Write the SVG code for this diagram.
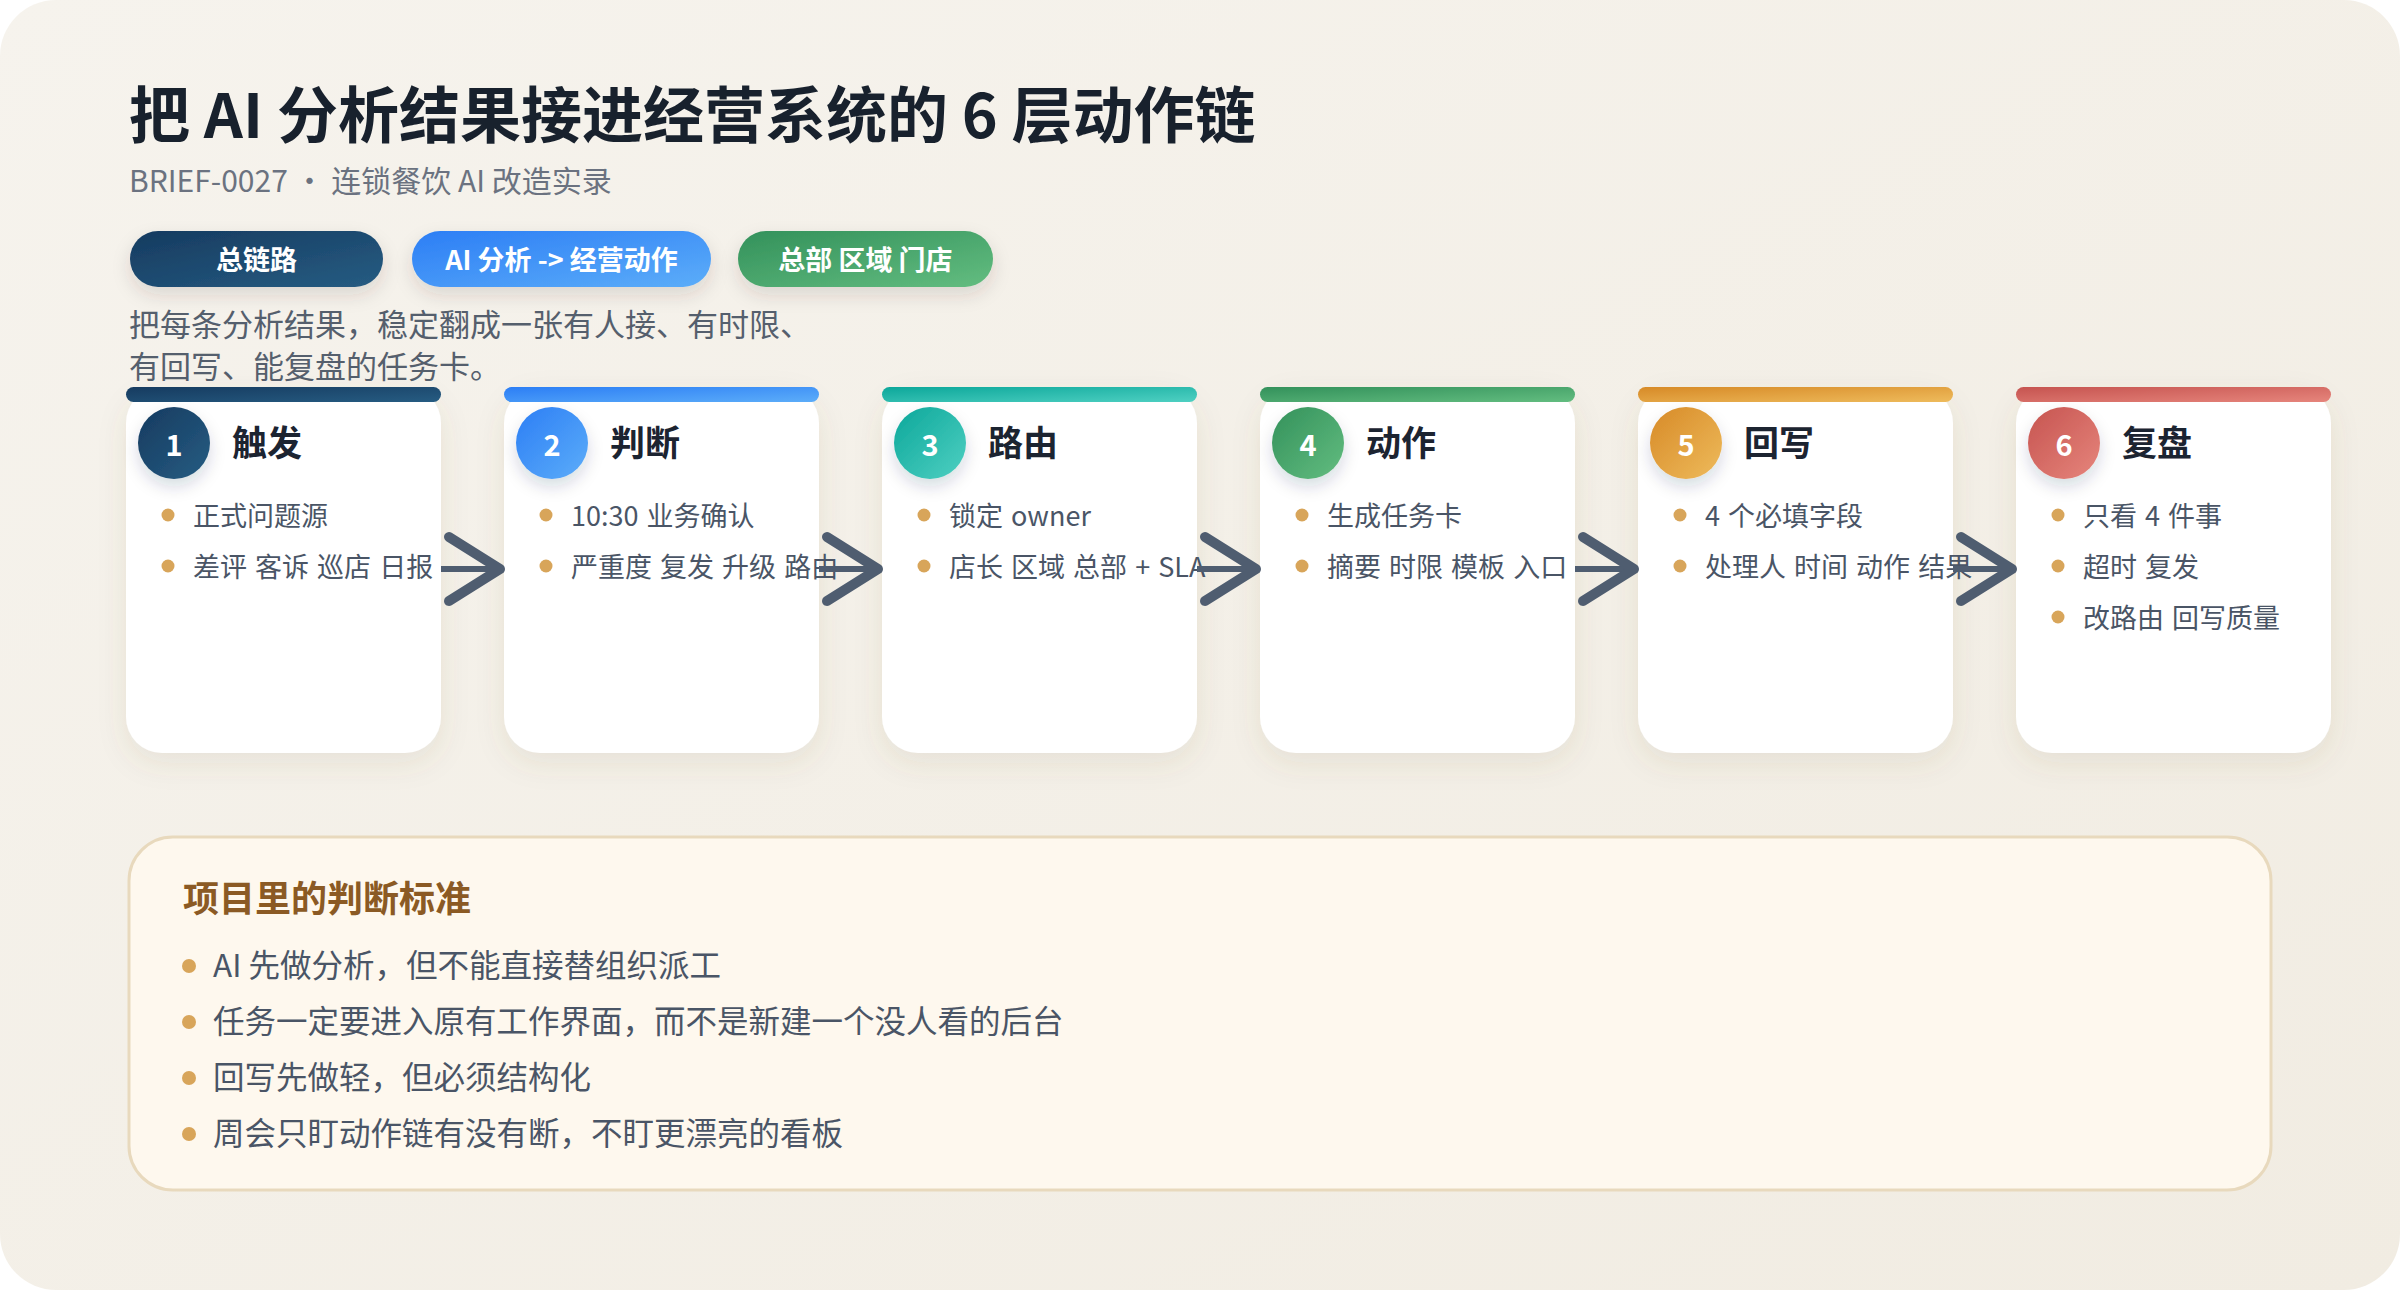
<svg xmlns="http://www.w3.org/2000/svg" width="2400" height="1290" viewBox="0 0 2400 1290">
<defs>
<linearGradient id="bg" x1="0" y1="0" x2="1" y2="1"><stop offset="0" stop-color="#f6f3ed"/><stop offset="1" stop-color="#f1ece2"/></linearGradient>
<linearGradient id="g1" x1="0" y1="0" x2="1" y2="1"><stop offset="0" stop-color="#163b60"/><stop offset="1" stop-color="#265c82"/></linearGradient>
<linearGradient id="g2" x1="0" y1="0" x2="1" y2="1"><stop offset="0" stop-color="#2c7ef5"/><stop offset="1" stop-color="#5cadf9"/></linearGradient>
<linearGradient id="g3" x1="0" y1="0" x2="1" y2="1"><stop offset="0" stop-color="#0ca79a"/><stop offset="1" stop-color="#4fd0c2"/></linearGradient>
<linearGradient id="g4" x1="0" y1="0" x2="1" y2="1"><stop offset="0" stop-color="#33915b"/><stop offset="1" stop-color="#63bd80"/></linearGradient>
<linearGradient id="g5" x1="0" y1="0" x2="1" y2="1"><stop offset="0" stop-color="#d78a27"/><stop offset="1" stop-color="#eebb5c"/></linearGradient>
<linearGradient id="g6" x1="0" y1="0" x2="1" y2="1"><stop offset="0" stop-color="#c65450"/><stop offset="1" stop-color="#e6857c"/></linearGradient>
<filter id="shCard" x="-20%" y="-20%" width="140%" height="140%"><feDropShadow dx="0" dy="10" stdDeviation="14" flood-color="#6b5a3c" flood-opacity="0.10"/></filter>
<filter id="shPill" x="-20%" y="-40%" width="140%" height="200%"><feDropShadow dx="0" dy="8" stdDeviation="9" flood-color="#3a3020" flood-opacity="0.14"/></filter>
<filter id="shDot" x="-50%" y="-50%" width="200%" height="200%"><feDropShadow dx="0" dy="8" stdDeviation="8" flood-color="#1c3050" flood-opacity="0.16"/></filter>
<marker id="chev" markerUnits="userSpaceOnUse" viewBox="-10 -44 72 88" markerWidth="72" markerHeight="88" refX="51" refY="0" orient="auto">
<path d="M0,-32 L51,0 L0,32" fill="none" stroke="#4f5d70" stroke-width="10" stroke-linecap="round" stroke-linejoin="round"/>
</marker>
<style>
text{font-family:"Noto Sans CJK SC","Noto Sans",sans-serif;}
.title{font-size:61px;font-weight:700;fill:#18212d;}
.sub{font-size:30px;fill:#6b7280;}
.pill{font-size:27px;font-weight:700;fill:#ffffff;}
.desc{font-size:31px;fill:#555f6d;}
.card{fill:#ffffff;}
.num{font-size:29px;font-weight:700;fill:#ffffff;}
.ct{font-size:35px;font-weight:700;fill:#1c2431;}
.bt{font-size:27px;fill:#4a5566;word-spacing:2px;}
.dot{fill:#d8a55a;}
.bx{fill:#fef8ee;stroke:#e8d9bd;stroke-width:3;}
.bxt{font-size:36px;font-weight:700;fill:#8b5a24;}
.bxb{font-size:31.5px;fill:#4a5566;}
.conn{stroke:#4f5d70;stroke-width:6;fill:none;}
</style>
</defs>
<rect x="0" y="0" width="2400" height="1290" fill="#ffffff"/>
<rect x="0" y="0" width="2400" height="1290" rx="56" fill="url(#bg)"/>

<g id="header">
<text class="title" x="129" y="111" dominant-baseline="central">把 AI 分析结果接进经营系统的 6 层动作链</text>
<text class="sub" x="129" y="179" dominant-baseline="central">BRIEF-0027 · 连锁餐饮 AI 改造实录</text>
</g>

<g id="pills">
<g id="pill-chain"><rect x="130" y="231" width="253" height="56" rx="28" fill="url(#g1)" filter="url(#shPill)"/><text class="pill" x="256.5" y="258" text-anchor="middle" dominant-baseline="central">总链路</text></g>
<g id="pill-ai"><rect x="412" y="231" width="299" height="56" rx="28" fill="url(#g2)" filter="url(#shPill)"/><text class="pill" x="561.5" y="258" text-anchor="middle" dominant-baseline="central">AI 分析 -&gt; 经营动作</text></g>
<g id="pill-org"><rect x="738" y="231" width="255" height="56" rx="28" fill="url(#g4)" filter="url(#shPill)"/><text class="pill" x="865.5" y="258" text-anchor="middle" dominant-baseline="central">总部 区域 门店</text></g>
</g>

<g id="desc">
<text class="desc" x="129" y="322" dominant-baseline="central">把每条分析结果，稳定翻成一张有人接、有时限、</text>
<text class="desc" x="129" y="364" dominant-baseline="central">有回写、能复盘的任务卡。</text>
</g>

<g id="step1">
<rect class="card" x="126" y="387" width="315" height="366" rx="36" filter="url(#shCard)"/>
<rect x="126" y="387" width="315" height="15" rx="7.5" fill="url(#g1)"/>
<circle cx="174" cy="443" r="36" fill="url(#g1)" filter="url(#shDot)"/>
<text class="num" x="174" y="443" text-anchor="middle" dominant-baseline="central">1</text>
<text class="ct" x="232" y="440" dominant-baseline="central">触发</text>
<circle class="dot" cx="168" cy="515" r="6.5"/><text class="bt" x="193" y="514" dominant-baseline="central">正式问题源</text>
<circle class="dot" cx="168" cy="566" r="6.5"/><text class="bt" x="193" y="565" dominant-baseline="central">差评 客诉 巡店 日报</text>
</g>

<g id="step2">
<rect class="card" x="504" y="387" width="315" height="366" rx="36" filter="url(#shCard)"/>
<rect x="504" y="387" width="315" height="15" rx="7.5" fill="url(#g2)"/>
<circle cx="552" cy="443" r="36" fill="url(#g2)" filter="url(#shDot)"/>
<text class="num" x="552" y="443" text-anchor="middle" dominant-baseline="central">2</text>
<text class="ct" x="610" y="440" dominant-baseline="central">判断</text>
<circle class="dot" cx="546" cy="515" r="6.5"/><text class="bt" x="571" y="514" dominant-baseline="central">10:30 业务确认</text>
<circle class="dot" cx="546" cy="566" r="6.5"/><text class="bt" x="571" y="565" dominant-baseline="central">严重度 复发 升级 路由</text>
</g>

<g id="step3">
<rect class="card" x="882" y="387" width="315" height="366" rx="36" filter="url(#shCard)"/>
<rect x="882" y="387" width="315" height="15" rx="7.5" fill="url(#g3)"/>
<circle cx="930" cy="443" r="36" fill="url(#g3)" filter="url(#shDot)"/>
<text class="num" x="930" y="443" text-anchor="middle" dominant-baseline="central">3</text>
<text class="ct" x="988" y="440" dominant-baseline="central">路由</text>
<circle class="dot" cx="924" cy="515" r="6.5"/><text class="bt" x="949" y="514" dominant-baseline="central">锁定 owner</text>
<circle class="dot" cx="924" cy="566" r="6.5"/><text class="bt" x="949" y="565" dominant-baseline="central">店长 区域 总部 + SLA</text>
</g>

<g id="step4">
<rect class="card" x="1260" y="387" width="315" height="366" rx="36" filter="url(#shCard)"/>
<rect x="1260" y="387" width="315" height="15" rx="7.5" fill="url(#g4)"/>
<circle cx="1308" cy="443" r="36" fill="url(#g4)" filter="url(#shDot)"/>
<text class="num" x="1308" y="443" text-anchor="middle" dominant-baseline="central">4</text>
<text class="ct" x="1366" y="440" dominant-baseline="central">动作</text>
<circle class="dot" cx="1302" cy="515" r="6.5"/><text class="bt" x="1327" y="514" dominant-baseline="central">生成任务卡</text>
<circle class="dot" cx="1302" cy="566" r="6.5"/><text class="bt" x="1327" y="565" dominant-baseline="central">摘要 时限 模板 入口</text>
</g>

<g id="step5">
<rect class="card" x="1638" y="387" width="315" height="366" rx="36" filter="url(#shCard)"/>
<rect x="1638" y="387" width="315" height="15" rx="7.5" fill="url(#g5)"/>
<circle cx="1686" cy="443" r="36" fill="url(#g5)" filter="url(#shDot)"/>
<text class="num" x="1686" y="443" text-anchor="middle" dominant-baseline="central">5</text>
<text class="ct" x="1744" y="440" dominant-baseline="central">回写</text>
<circle class="dot" cx="1680" cy="515" r="6.5"/><text class="bt" x="1705" y="514" dominant-baseline="central">4 个必填字段</text>
<circle class="dot" cx="1680" cy="566" r="6.5"/><text class="bt" x="1705" y="565" dominant-baseline="central">处理人 时间 动作 结果</text>
</g>

<g id="step6">
<rect class="card" x="2016" y="387" width="315" height="366" rx="36" filter="url(#shCard)"/>
<rect x="2016" y="387" width="315" height="15" rx="7.5" fill="url(#g6)"/>
<circle cx="2064" cy="443" r="36" fill="url(#g6)" filter="url(#shDot)"/>
<text class="num" x="2064" y="443" text-anchor="middle" dominant-baseline="central">6</text>
<text class="ct" x="2122" y="440" dominant-baseline="central">复盘</text>
<circle class="dot" cx="2058" cy="515" r="6.5"/><text class="bt" x="2083" y="514" dominant-baseline="central">只看 4 件事</text>
<circle class="dot" cx="2058" cy="566" r="6.5"/><text class="bt" x="2083" y="565" dominant-baseline="central">超时 复发</text>
<circle class="dot" cx="2058" cy="617" r="6.5"/><text class="bt" x="2083" y="616" dominant-baseline="central">改路由 回写质量</text>
</g>

<g id="connectors">
<line class="conn" x1="441" y1="569" x2="500" y2="569" marker-end="url(#chev)"/>
<line class="conn" x1="819" y1="569" x2="878" y2="569" marker-end="url(#chev)"/>
<line class="conn" x1="1197" y1="569" x2="1256" y2="569" marker-end="url(#chev)"/>
<line class="conn" x1="1575" y1="569" x2="1634" y2="569" marker-end="url(#chev)"/>
<line class="conn" x1="1953" y1="569" x2="2012" y2="569" marker-end="url(#chev)"/>
</g>

<g id="criteria">
<rect class="bx" x="129" y="837" width="2142" height="353" rx="44"/>
<text class="bxt" x="183" y="896" dominant-baseline="central">项目里的判断标准</text>
<circle class="dot" cx="189" cy="966" r="7"/><text class="bxb" x="213" y="963" dominant-baseline="central">AI 先做分析，但不能直接替组织派工</text>
<circle class="dot" cx="189" cy="1022" r="7"/><text class="bxb" x="213" y="1019" dominant-baseline="central">任务一定要进入原有工作界面，而不是新建一个没人看的后台</text>
<circle class="dot" cx="189" cy="1078" r="7"/><text class="bxb" x="213" y="1075" dominant-baseline="central">回写先做轻，但必须结构化</text>
<circle class="dot" cx="189" cy="1134" r="7"/><text class="bxb" x="213" y="1131" dominant-baseline="central">周会只盯动作链有没有断，不盯更漂亮的看板</text>
</g>
</svg>
